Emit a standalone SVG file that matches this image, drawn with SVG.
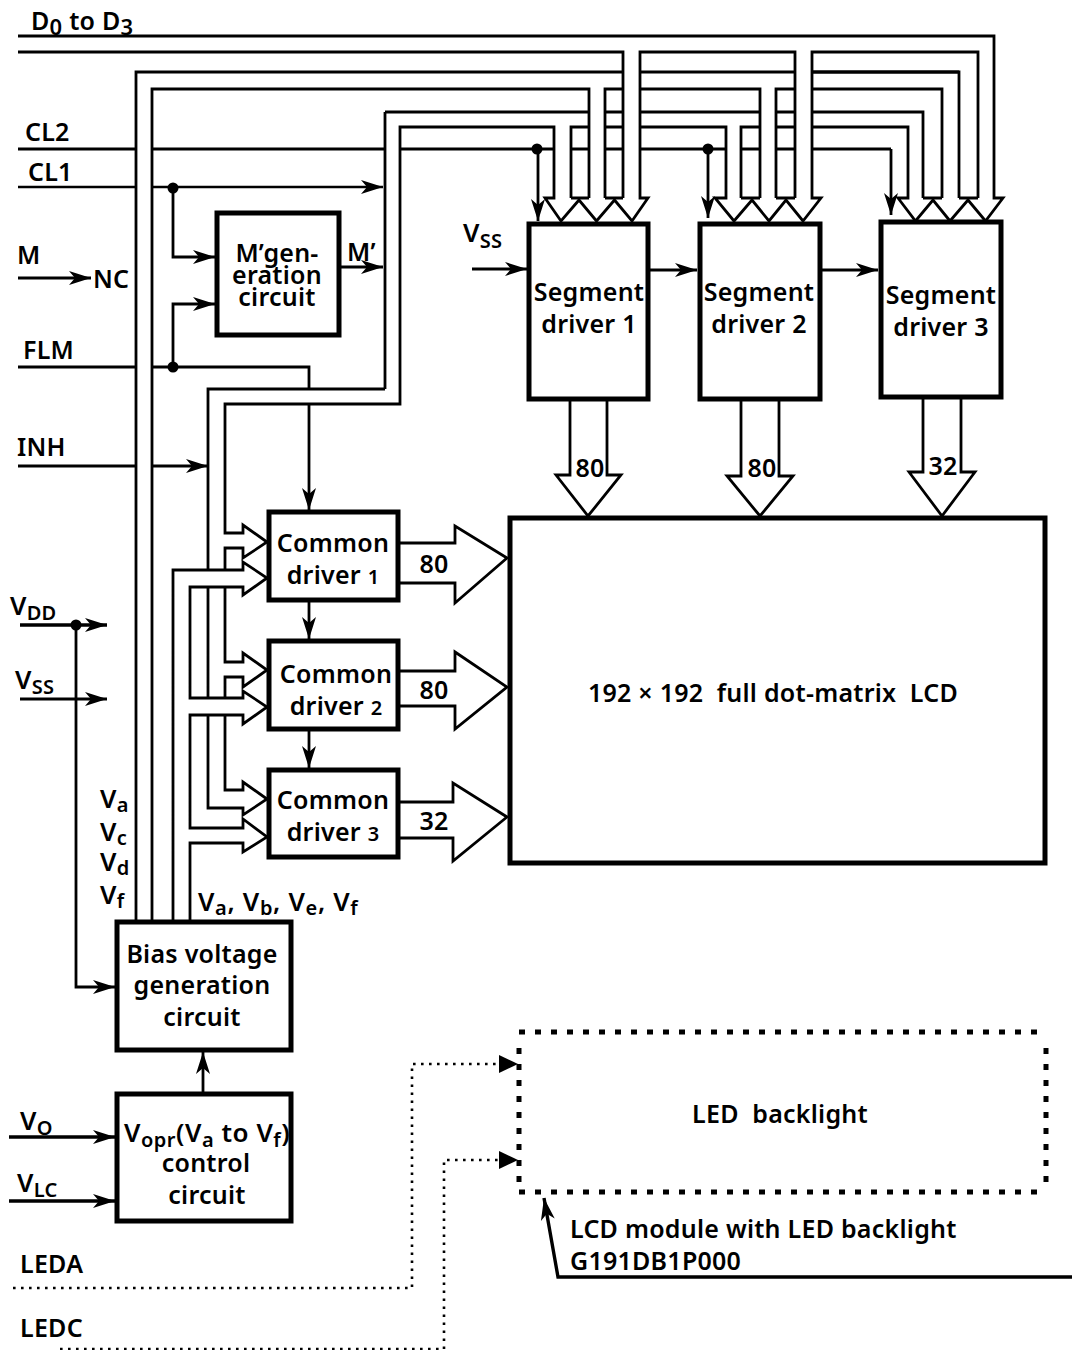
<svg xmlns="http://www.w3.org/2000/svg" width="1072" height="1350" viewBox="0 0 1072 1350">
<style>
text{font-family:"Noto Sans","Open Sans","Liberation Sans",sans-serif;font-size:25px;font-weight:600;letter-spacing:.25px;fill:#000}
.m{text-anchor:middle}
.s{font-size:20px}
.v{font-size:26px}
.s2{font-size:22px}
.box{fill:#fff;stroke:#000;stroke-width:5}
.ln{fill:none;stroke:#000;stroke-width:2.8;stroke-linejoin:miter}
.hv{stroke-width:3.4}
.th{stroke-width:2.4}
.ar{marker-end:url(#st)}
.dot{fill:none;stroke:#000;stroke-width:2.6;stroke-dasharray:2.6 5.4}
.bd{fill:none;stroke:#000;stroke-width:5;stroke-dasharray:6 10}
.jn{fill:#000}
</style>
<defs>
<marker id="st" markerUnits="userSpaceOnUse" markerWidth="22" markerHeight="14" refX="22" refY="7" orient="auto" overflow="visible"><path d="M0 0L22 7L0 14L6 7Z" fill="#000"/></marker>
</defs>
<g id="connectors">
<path class="ln" d="M18 36H994V198H1003L985.5 221L968 200L950 221L933 200L915.5 221L898 198H908V127H812M923 198V112H812M942 198V89H812M959 198V72H812M978 198V52H812V198H821L803 221L786 200L769 221L752 200L734 221L715 198H726V127H640M741 198V127H760M760 198V89H640M776 198V89H795M795 198V52H640V198H648L632 221L614.5 200L596.5 221L579 200L561 221L545 198H554V127H400V404H225V533H243V525L267 542L243 558V548H225V570"/>
<path class="ln" d="M589 198V89H152V922M571 198V127H589M605 198V89H623M623 198V52H18M136 922V72H623M640 72H795M812 72H959M640 112H760M776 112H795M605 112H623M605 127H623M776 127H795M18 149H136M152 149H385M400 149H554M571 149H589M605 149H623M640 149H726M741 149H760M776 149H795M812 149H891"/>
<path class="ln" d="M385 112H589M385 389V112M385 389H208V570M208 587V698M208 715V808H243V815L267 799L243 782V790H225V715M225 587V662H243V653L267 670L243 687V677H225V698M173 922V570H243V562L267 578L243 595V587H190V698H243V691L267 707L243 724V715H190V828H243V819L267 837L243 852V843H190V922"/>
<path class="ln" d="M571 198H589M605 198H623M741 198H760M776 198H795M923 198H942M959 198H978"/>
<path class="ln th ar" d="M18 187H136M152 187H383"/>
<path class="ln ar" d="M173 187V257H215"/>
<path class="ln" d="M18 367H136M152 367H309V389"/>
<path class="ln ar" d="M173 367V304H215"/>
<path class="ln ar" d="M309 404V510"/>
<path class="ln ar" d="M339 267H383"/>
<path class="ln ar" d="M18 278H91"/>
<path class="ln" d="M18 466H136"/>
<path class="ln ar" d="M152 466H208"/>
<path class="ln ar" d="M472 269H527"/>
<path class="ln ar" d="M650 270H697"/>
<path class="ln ar" d="M822 270H878"/>
<path class="ln ar" d="M538 149V221"/>
<path class="ln ar" d="M708 149V218"/>
<path class="ln ar" d="M891 149V215"/>
<path class="ln ar" d="M309 602V639"/>
<path class="ln ar" d="M309 731V768"/>
<path class="ln hv ar" d="M20 625H107"/>
<path class="ln ar" d="M20 699H107"/>
<path class="ln ar" d="M76 625V987H115"/>
<path class="ln ar" d="M203 1093V1052"/>
<path class="ln hv ar" d="M9 1137H115"/>
<path class="ln hv ar" d="M9 1201H115"/>
<circle class="jn" cx="537" cy="149" r="5.5"/>
<circle class="jn" cx="708" cy="149" r="5.5"/>
<circle class="jn" cx="173" cy="188" r="5.5"/>
<circle class="jn" cx="173" cy="367" r="5.5"/>
<circle class="jn" cx="76" cy="625" r="5.5"/>
<path class="ln" d="M570 400V475H556L588 516L621 475H607V400"/>
<path class="ln" d="M741 400V476H727L760 516L793 476H779V400"/>
<path class="ln" d="M923 398V472H909L942 516L975 472H961V398"/>
<path class="ln" d="M399 543H455V526L507 558L455 603V583H399"/>
<path class="ln" d="M399 671H455V652L507 687L455 729V706H399"/>
<path class="ln" d="M399 802H453V783L507 817L453 861V838H399"/>
<path class="dot" d="M13 1288H412V1064H499"/>
<path class="dot" d="M60 1349H444V1160H499"/>
<path class="jn" d="M499 1055L518 1064L499 1073Z"/>
<path class="jn" d="M499 1151L518 1160L499 1169Z"/>
<path class="ln hv ar" d="M1072 1277H558L544 1198"/>
</g>
<g id="m-gen"><rect class="box" x="217" y="213" width="122" height="122"/><text class="m" x="277" y="262">M’gen-</text><text class="m" x="277" y="284">eration</text><text class="m" x="277" y="306">circuit</text></g>
<g id="seg1"><rect class="box" x="529" y="224" width="119" height="175"/><text class="m" x="589" y="301">Segment</text><text class="m" x="589" y="333">driver 1</text></g>
<g id="seg2"><rect class="box" x="700" y="224" width="120" height="175"/><text class="m" x="759" y="301">Segment</text><text class="m" x="759" y="333">driver 2</text></g>
<g id="seg3"><rect class="box" x="881" y="222" width="120" height="175"/><text class="m" x="941" y="304">Segment</text><text class="m" x="941" y="336">driver 3</text></g>
<g id="com1"><rect class="box" x="269" y="512" width="129" height="88"/><text class="m" x="333" y="552">Common</text><text class="m" x="333" y="584">driver <tspan class="s">1</tspan></text></g>
<g id="com2"><rect class="box" x="269" y="641" width="129" height="88"/><text class="m" x="336" y="683">Common</text><text class="m" x="336" y="715">driver <tspan class="s">2</tspan></text></g>
<g id="com3"><rect class="box" x="269" y="770" width="129" height="87"/><text class="m" x="333" y="809">Common</text><text class="m" x="333" y="841">driver <tspan class="s">3</tspan></text></g>
<g id="lcd"><rect class="box" x="510" y="518" width="535" height="345"/><text class="m" x="773" y="702" xml:space="preserve">192 × 192  full dot-matrix  LCD</text></g>
<g id="bias"><rect class="box" x="117" y="922" width="174" height="128"/><text class="m" x="202" y="963">Bias voltage</text><text class="m" x="202" y="994">generation</text><text class="m" x="202" y="1026">circuit</text></g>
<g id="vopr"><rect class="box" x="117" y="1094" width="174" height="127"/><text class="v" x="124" y="1142" textLength="166">V<tspan class="s" dy="5">opr</tspan><tspan dy="-5">(V</tspan><tspan class="s" dy="5">a</tspan><tspan dy="-5"> to V</tspan><tspan class="s" dy="5">f</tspan><tspan dy="-5">)</tspan></text><text class="m" x="206" y="1172">control</text><text class="m" x="207" y="1204">circuit</text></g>
<g id="backlight"><path class="bd" d="M519 1032H1046"/><path class="bd" d="M519 1192H1046"/><path class="bd" d="M519 1048V1184"/><path class="bd" d="M1046 1048V1184"/><text class="m" x="780" y="1123" xml:space="preserve">LED  backlight</text></g>
<g id="labels">
<text x="31" y="30">D<tspan class="s2" dy="5">0</tspan><tspan dy="-5"> to D</tspan><tspan class="s2" dy="5">3</tspan></text>
<text x="25" y="141">CL2</text>
<text x="28" y="181">CL1</text>
<text x="17" y="264">M</text>
<text x="93" y="288">NC</text>
<text x="23" y="359">FLM</text>
<text x="17" y="456">INH</text>
<text x="347" y="261">M’</text>
<text class="v" x="463" y="242">V<tspan class="s" dy="6">SS</tspan></text>
<text class="v" x="10" y="615">V<tspan class="s" dy="5">DD</tspan></text>
<text class="v" x="15" y="689">V<tspan class="s" dy="5">SS</tspan></text>
<text class="v" x="100" y="808">V<tspan class="s" dy="4">a</tspan></text>
<text class="v" x="100" y="841">V<tspan class="s" dy="4">c</tspan></text>
<text class="v" x="100" y="871">V<tspan class="s" dy="4">d</tspan></text>
<text class="v" x="100" y="904">V<tspan class="s" dy="4">f</tspan></text>
<text class="v" x="198" y="911" textLength="160">V<tspan class="s" dy="4">a</tspan><tspan dy="-4">, V</tspan><tspan class="s" dy="4">b</tspan><tspan dy="-4">, V</tspan><tspan class="s" dy="4">e</tspan><tspan dy="-4">, V</tspan><tspan class="s" dy="4">f</tspan></text>
<text class="v" x="20" y="1130">V<tspan class="s" dy="5">O</tspan></text>
<text class="v" x="17" y="1192">V<tspan class="s" dy="5">LC</tspan></text>
<text x="20" y="1273">LEDA</text>
<text x="20" y="1337">LEDC</text>
<text x="570" y="1238">LCD module with LED backlight</text>
<text x="570" y="1270">G191DB1P000</text>
<text class="m" x="434" y="573">80</text>
<text class="m" x="434" y="699">80</text>
<text class="m" x="434" y="830">32</text>
<text class="m" x="590" y="477">80</text>
<text class="m" x="762" y="477">80</text>
<text class="m" x="943" y="475">32</text>
</g>
</svg>
